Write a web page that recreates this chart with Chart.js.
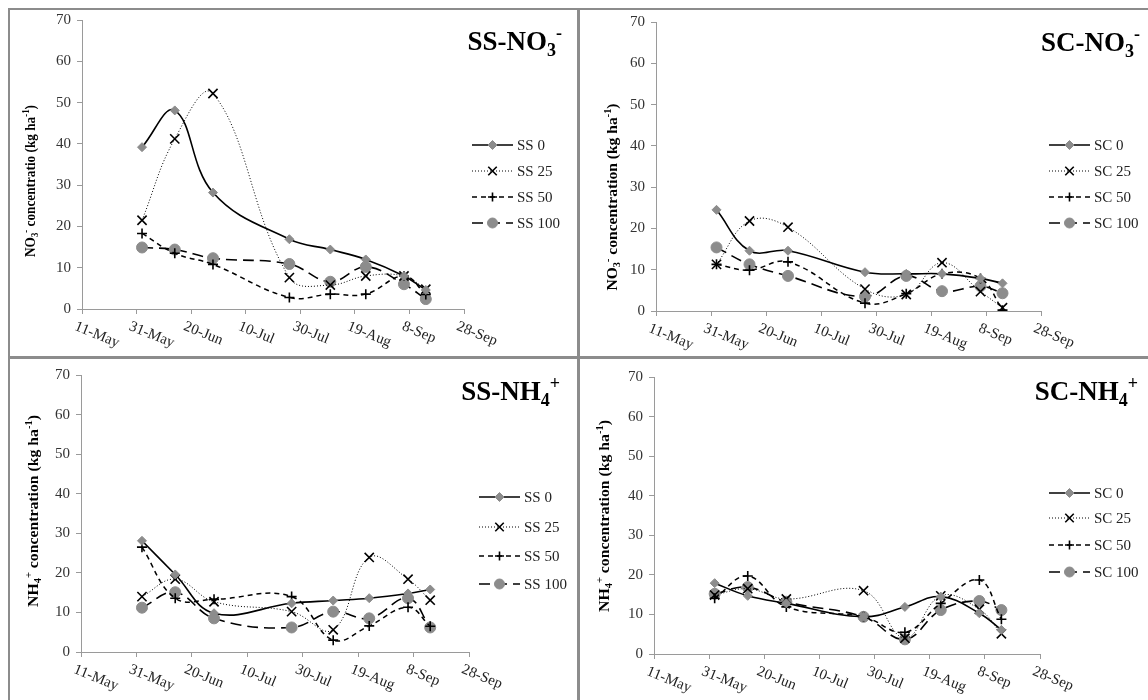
<!DOCTYPE html>
<html>
<head>
<meta charset="utf-8">
<script src="https://cdn.jsdelivr.net/npm/chart.js@4.4.0/dist/chart.umd.min.js"></script>
<style>
body{margin:0;background:#fff;width:1148px;height:700px;overflow:hidden;position:relative}
.ln{position:absolute;background:#8c8c8c}
canvas{position:absolute}
</style>
</head>
<body>
<div class="ln" style="left:8px;top:8px;width:1140px;height:2px"></div>
<div class="ln" style="left:8px;top:8px;width:2px;height:692px"></div>
<div class="ln" style="left:577px;top:8px;width:3px;height:692px"></div>
<div class="ln" style="left:8px;top:356px;width:1140px;height:3px"></div>
<canvas id="c1" width="567" height="346" style="left:10px;top:10px"></canvas>
<canvas id="c2" width="568" height="346" style="left:580px;top:10px"></canvas>
<canvas id="c3" width="567" height="341" style="left:10px;top:359px"></canvas>
<canvas id="c4" width="568" height="341" style="left:580px;top:359px"></canvas>
<script>
// sampling dates as day of year (2 Jun, 14 Jun, 28 Jun, 26 Jul, 10 Aug, 23 Aug, 6 Sep, 14 Sep)
const sampleDays = [153, 165, 179, 207, 222, 235, 249, 257];
const tickDays = [131, 151, 171, 191, 211, 231, 251, 271];
const tickLabels = ['11-May', '31-May', '20-Jun', '10-Jul', '30-Jul', '19-Aug', '8-Sep', '28-Sep'];
const rates = ['0', '25', '50', '100'];

// SS nitrate
const ssNO3_0 = [39.2, 48.1, 28.2, 16.9, 14.4, 12.0, 8.0, 4.6];
const ssNO3_25 = [21.5, 41.2, 52.2, 7.6, 5.8, 8.0, 8.0, 4.8];
const ssNO3_50 = [18.3, 13.5, 10.8, 2.8, 3.6, 3.6, 8.0, 3.5];
const ssNO3_100 = [14.9, 14.4, 12.3, 10.9, 6.6, 10.2, 6.0, 2.4];
// SC nitrate
const scNO3_0 = [24.5, 14.6, 14.6, 9.4, 9.0, 9.0, 7.9, 6.7];
const scNO3_25 = [11.3, 21.8, 20.3, 5.3, 4.0, 11.7, 4.7, 0.8];
const scNO3_50 = [11.3, 9.9, 11.9, 1.9, 4.2, 9.0, 7.9, 0.2];
const scNO3_100 = [15.4, 11.3, 8.5, 3.5, 8.5, 4.8, 6.0, 4.3];
// SS ammonium
const ssNH4_0 = [28.1, 19.6, 9.8, 12.3, 13.0, 13.6, 14.8, 15.8];
const ssNH4_25 = [14.0, 18.4, 12.7, 10.2, 5.6, 23.9, 18.4, 13.1];
const ssNH4_50 = [26.5, 13.6, 13.3, 14.0, 3.0, 6.6, 11.3, 6.5];
const ssNH4_100 = [11.2, 15.1, 8.5, 6.2, 10.2, 8.5, 13.6, 6.2];
// SC ammonium
const scNH4_0 = [17.9, 14.7, 12.8, 9.4, 11.9, 14.5, 10.3, 6.1];
const scNH4_25 = [14.9, 16.5, 13.9, 16.0, 4.0, 14.7, 11.3, 5.1];
const scNH4_50 = [14.1, 19.7, 11.9, 9.4, 5.5, 12.8, 18.7, 8.8];
const scNH4_100 = [15.2, 16.9, 13.2, 9.4, 3.7, 11.1, 13.4, 11.1];

const serif = '"Liberation Serif", "Times New Roman", serif';
const grey = '#8c8c8c';

const looks = [
  {borderWidth: 1.6, borderDash: [], pointStyle: 'rectRot', pointRadius: 4.5, pointBackgroundColor: grey, pointBorderColor: grey, pointBorderWidth: 1},
  {borderWidth: 1, borderDash: [1, 2], pointStyle: 'crossRot', pointRadius: 6.5, pointBackgroundColor: '#000', pointBorderColor: '#000', pointBorderWidth: 1.6},
  {borderWidth: 1.5, borderDash: [5, 4], pointStyle: 'cross', pointRadius: 5, pointBackgroundColor: '#000', pointBorderColor: '#000', pointBorderWidth: 1.6},
  {borderWidth: 1.6, borderDash: [11, 6], pointStyle: 'circle', pointRadius: 5.5, pointBackgroundColor: grey, pointBorderColor: grey, pointBorderWidth: 1}
];

function richWidth(ctx, parts, big, small) {
  let w = 0;
  parts.forEach(p => {
    ctx.font = (p[1] ? small : big);
    w += ctx.measureText(p[0]).width;
  });
  return w;
}

function drawRich(ctx, parts, x, y, big, small, subOff, supOff) {
  let cx = x;
  parts.forEach(p => {
    ctx.font = (p[1] ? small : big);
    let dy = 0;
    if (p[1] == 'sub') dy = subOff;
    if (p[1] == 'sup') dy = supOff;
    ctx.fillText(p[0], cx, y + dy);
    cx += ctx.measureText(p[0]).width;
  });
}

function makeDecor(cfg) {
  return {
    id: 'decor',
    afterDraw(chart) {
      const ctx = chart.ctx;
      const xs = chart.scales.x;
      ctx.save();
      ctx.fillStyle = '#222';
      ctx.textBaseline = 'top';
      ctx.textAlign = 'left';
      ctx.font = '15px ' + serif;
      // slanted date labels
      for (let i = 0; i < tickDays.length; i++) {
        const px = xs.getPixelForValue(tickDays[i]);
        ctx.save();
        ctx.translate(px - 4, xs.top + 10);
        ctx.rotate(22 * Math.PI / 180);
        ctx.fillText(tickLabels[i], 0, 0);
        ctx.restore();
      }
      ctx.restore();

      // panel title
      ctx.save();
      ctx.fillStyle = '#000';
      ctx.textBaseline = 'alphabetic';
      const bigT = 'bold 27px ' + serif, smallT = 'bold 18px ' + serif;
      const tw = richWidth(ctx, cfg.title, bigT, smallT);
      drawRich(ctx, cfg.title, cfg.titleRight - tw, cfg.titleBase, bigT, smallT, 6, -11);
      ctx.restore();

      // y axis title
      ctx.save();
      ctx.fillStyle = '#000';
      ctx.textBaseline = 'middle';
      const bigY = 'bold 15px ' + serif, smallY = 'bold 10px ' + serif;
      const yw = richWidth(ctx, cfg.ytitle, bigY, smallY);
      ctx.translate(cfg.yx, cfg.yy);
      ctx.rotate(-Math.PI / 2);
      ctx.scale(cfg.ylen / yw, 1);
      drawRich(ctx, cfg.ytitle, -yw / 2, 0, bigY, smallY, 4, -5);
      ctx.restore();

      // legend
      ctx.save();
      chart.data.datasets.forEach((ds, i) => {
        const y = cfg.legRows[i];
        const x0 = cfg.legX;
        ctx.strokeStyle = '#000';
        ctx.lineWidth = ds.borderWidth;
        ctx.setLineDash(ds.borderDash);
        ctx.beginPath();
        ctx.moveTo(x0, y);
        ctx.lineTo(x0 + 41, y);
        ctx.stroke();
        ctx.setLineDash([]);
        ctx.fillStyle = ds.pointBackgroundColor;
        ctx.strokeStyle = ds.pointBorderColor;
        ctx.lineWidth = ds.pointBorderWidth;
        const r = ds.pointStyle == 'circle' ? 5 : (ds.pointStyle == 'crossRot' ? 6 : 4.5);
        if (Chart.helpers && Chart.helpers.drawPoint) {
          Chart.helpers.drawPoint(ctx, {pointStyle: ds.pointStyle, radius: r, borderWidth: ds.pointBorderWidth, rotation: 0}, x0 + 20.5, y);
        }
        ctx.fillStyle = '#222';
        ctx.font = '15px ' + serif;
        ctx.textBaseline = 'middle';
        ctx.textAlign = 'left';
        ctx.fillText(ds.label, x0 + 45, y + 1);
      });
      ctx.restore();
    }
  };
}

function makeChart(id, prefix, series, cfg) {
  const datasets = series.map((vals, i) => Object.assign({
    label: prefix + ' ' + rates[i],
    data: vals.map((v, j) => ({x: sampleDays[j], y: v})),
    borderColor: '#000',
    tension: 0.4,
    fill: false
  }, looks[i]));

  return new Chart(document.getElementById(id), {
    type: 'line',
    data: {datasets: datasets},
    options: {
      responsive: false,
      animation: false,
      layout: {padding: {left: 0, top: cfg.top, right: cfg.right, bottom: 0}},
      plugins: {legend: {display: false}, tooltip: {enabled: false}},
      scales: {
        x: {
          type: 'linear',
          min: 131,
          max: 271,
          ticks: {stepSize: 20, display: false},
          grid: {drawOnChartArea: false, drawTicks: true, tickLength: 5, color: '#9a9a9a'},
          border: {color: '#9a9a9a', width: 1},
          afterFit(s) { s.height = cfg.xh; s.paddingLeft = 0; s.paddingRight = 0; }
        },
        y: {
          min: 0,
          max: 70,
          ticks: {stepSize: 10, color: '#333', padding: 6, font: {family: serif, size: 15}},
          grid: {drawOnChartArea: false, drawTicks: true, tickLength: 5, color: '#9a9a9a'},
          border: {color: '#9a9a9a', width: 1},
          afterFit(s) { s.width = cfg.yw; s.paddingTop = 0; s.paddingBottom = 0; }
        }
      }
    },
    plugins: [makeDecor(cfg)]
  });
}

makeChart('c1', 'SS', [ssNO3_0, ssNO3_25, ssNO3_50, ssNO3_100], {
  top: 10, right: 113, xh: 47, yw: 72,
  title: [['SS-NO', ''], ['3', 'sub'], ['-', 'sup']], titleRight: 552, titleBase: 40,
  ytitle: [['NO', ''], ['3', 'sub'], ['-', 'sup'], [' concentratio (kg ha', ''], ['-1', 'sup'], [')', '']],
  yx: 21, yy: 171, ylen: 152,
  legX: 462, legRows: [135, 161, 187, 213]
});

makeChart('c2', 'SC', [scNO3_0, scNO3_25, scNO3_50, scNO3_100], {
  top: 12, right: 107, xh: 45, yw: 76,
  title: [['SC-NO', ''], ['3', 'sub'], ['-', 'sup']], titleRight: 560, titleBase: 41,
  ytitle: [['NO', ''], ['3', 'sub'], ['-', 'sup'], [' concentration (kg ha', ''], ['-1', 'sup'], [')', '']],
  yx: 33, yy: 187, ylen: 187,
  legX: 469, legRows: [135, 161, 187, 213]
});

makeChart('c3', 'SS', [ssNH4_0, ssNH4_25, ssNH4_50, ssNH4_100], {
  top: 16, right: 108, xh: 48, yw: 71,
  title: [['SS-NH', ''], ['4', 'sub'], ['+', 'sup']], titleRight: 550, titleBase: 41,
  ytitle: [['NH', ''], ['4', 'sub'], ['+', 'sup'], [' concentration (kg ha', ''], ['-1', 'sup'], [')', '']],
  yx: 24, yy: 152, ylen: 192,
  legX: 469, legRows: [138, 168, 197, 225]
});

makeChart('c4', 'SC', [scNH4_0, scNH4_25, scNH4_50, scNH4_100], {
  top: 18, right: 108, xh: 46, yw: 74,
  title: [['SC-NH', ''], ['4', 'sub'], ['+', 'sup']], titleRight: 558, titleBase: 41,
  ytitle: [['NH', ''], ['4', 'sub'], ['+', 'sup'], [' concentration (kg ha', ''], ['-1', 'sup'], [')', '']],
  yx: 25, yy: 157, ylen: 192,
  legX: 469, legRows: [134, 159, 186, 213]
});
</script>
</body>
</html>
